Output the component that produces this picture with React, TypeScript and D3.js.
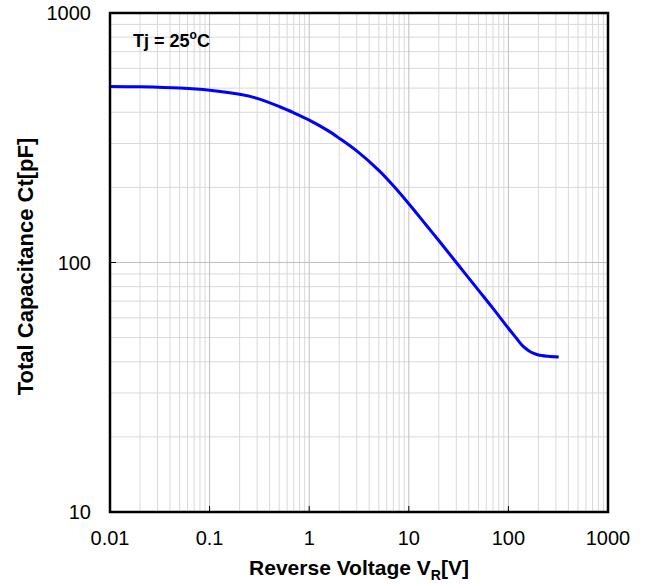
import React from "react";
import * as d3 from "d3";

const voltage = [0.01, 0.02, 0.05, 0.1, 0.2, 0.3, 0.5, 0.7, 1, 1.5, 2, 3, 5, 7, 10, 15, 20, 30, 50, 70, 100, 120, 140, 160, 180, 200, 250, 320];
const capacitance = [508, 506, 500, 490, 472, 455, 422, 398, 372, 340, 315, 280, 234, 203, 172, 141, 122.5, 100, 77.5, 65.5, 54.5, 49.8, 46.2, 44.3, 43.2, 42.6, 42.1, 41.8];
const xTicks = [0.01, 0.1, 1, 10, 100, 1000];
const xTickLabels = ["0.01", "0.1", "1", "10", "100", "1000"];
const yTicks = [10, 100, 1000];
const yTickLabels = ["10", "100", "1000"];

const W = 650, H = 584;
const L = 110, R = 608, T = 13, B = 512;
const FONT = "'Liberation Sans', Arial, sans-serif";

function minorVals(lo: number, hi: number) {
  const out: number[] = [];
  for (let d = lo; d < hi; d *= 10) {
    for (let k = 2; k <= 9; k++) out.push(d * k);
  }
  return out;
}

export default function App() {
  const x = d3.scaleLog().domain([0.01, 1000]).range([L, R]);
  const y = d3.scaleLog().domain([10, 1000]).range([B, T]);
  const pts = voltage.map((v, i) => [v, capacitance[i]] as [number, number]);
  const line = d3.line<[number, number]>().x(d => x(d[0])).y(d => y(d[1])).curve(d3.curveCatmullRom.alpha(0.5));
  const xMinor = minorVals(0.01, 1000);
  const yMinor = minorVals(10, 1000);
  return (
    <svg width={W} height={H} style={{ position: "absolute", left: 0, top: 0 }} fontFamily={FONT}>
      <rect x={0} y={0} width={W} height={H} fill="#fff" />
      {xMinor.map((v, i) => (
        <line key={"xm" + i} x1={x(v)} x2={x(v)} y1={T} y2={B} stroke="#d9d9d9" strokeWidth={1} />
      ))}
      {yMinor.map((v, i) => (
        <line key={"ym" + i} x1={L} x2={R} y1={y(v)} y2={y(v)} stroke="#d9d9d9" strokeWidth={1} />
      ))}
      {xTicks.map((v, i) => (
        <line key={"xM" + i} x1={x(v)} x2={x(v)} y1={T} y2={B} stroke="#bfbfbf" strokeWidth={1} />
      ))}
      {yTicks.map((v, i) => (
        <line key={"yM" + i} x1={L} x2={R} y1={y(v)} y2={y(v)} stroke="#bfbfbf" strokeWidth={1} />
      ))}
      {xTicks.map((v, i) => (
        <line key={"xt" + i} x1={x(v)} x2={x(v)} y1={B} y2={B - 6} stroke="#000" strokeWidth={1} />
      ))}
      {yTicks.map((v, i) => (
        <line key={"yt" + i} x1={L} x2={L + 6} y1={y(v)} y2={y(v)} stroke="#000" strokeWidth={1} />
      ))}
      <path d={line(pts) || ""} fill="none" stroke="#0000ff" strokeWidth={3} strokeLinejoin="round" />
      <rect x={L} y={T} width={R - L} height={B - T} fill="none" stroke="#000" strokeWidth={2.5} />
      {xTicks.map((v, i) => (
        <text key={"xl" + i} x={x(v)} y={B + 33} textAnchor="middle" fontSize={20} fill="#000">{xTickLabels[i]}</text>
      ))}
      {yTicks.map((v, i) => (
        <text key={"yl" + i} x={L - 19} y={y(v)} dy="0.35em" textAnchor="end" fontSize={20} fill="#000">{yTickLabels[i]}</text>
      ))}
      <text x={(L + R) / 2} y={575} textAnchor="middle" fontSize={21} fontWeight="bold" fill="#000">
        Reverse Voltage V<tspan fontSize={14} dy={5}>R</tspan><tspan dy={-5}>[V]</tspan>
      </text>
      <text transform={`translate(33,${(T + B) / 2 + 4}) rotate(-90)`} textAnchor="middle" fontSize={22} fontWeight="bold" fill="#000">
        Total Capacitance Ct[pF]
      </text>
      <text x={133} y={47} fontSize={18} fontWeight="bold" fill="#000">
        Tj = 25<tspan fontSize={12} dy={-8}>o</tspan><tspan dy={8}>C</tspan>
      </text>
    </svg>
  );
}
